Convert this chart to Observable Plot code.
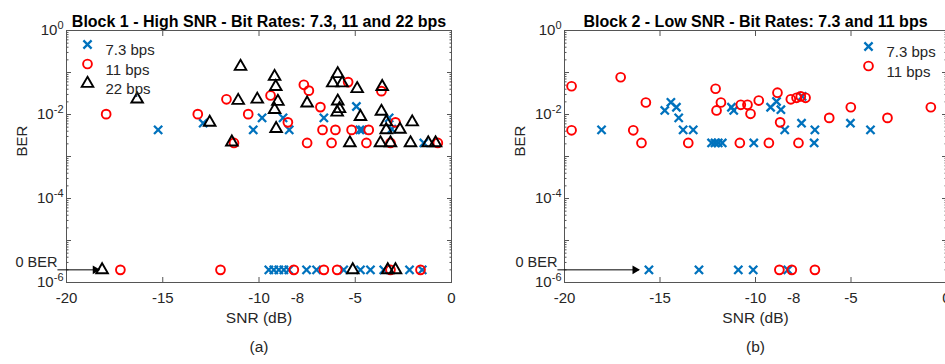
<!DOCTYPE html>
<html>
<head>
<meta charset="utf-8">
<script src="https://cdn.jsdelivr.net/npm/d3@7"></script>
<script src="https://cdn.jsdelivr.net/npm/@observablehq/plot@0.6"></script>
<style>
  html, body { margin: 0; padding: 0; background: #fff; }
  #wrap { position: relative; width: 945px; height: 364px; overflow: hidden; background: #fff; }
  .panel { position: absolute; top: 0; }
</style>
</head>
<body>
<div id="wrap"></div>
<script>
// ---------- data (SNR in dB, BER) ----------
const ZERO_BER = 2e-6;            // plotting position used for "0 BER" results

const b1_73 = [[-15.24,0.0043],[-12.9,0.0062],[-10.3,0.0043],[-9.84,0.0083],[-8.75,0.0083],[-8.43,0.0043],
  [-6.63,0.0083],[-4.94,0.0155],[-4.76,0.0043],[-4.64,0.0043],[-3.24,0.0083],[-3.1,0.0045],[-1.44,0.0021]];
const b1_73_zero = [-9.49,-9.23,-8.97,-8.71,-8.45,-7.53,-7.01,-5.6,-4.73,-4.21,-3.52,-2.18,-1.52];

const b1_11 = [[-17.94,0.0102],[-13.18,0.0102],[-11.69,0.023],[-10.56,0.0102],[-11.3,0.0021],[-9.4,0.0283],
  [-8.5,0.0065],[-7.67,0.051],[-7.41,0.037],[-7.5,0.0021],[-6.81,0.015],[-6.7,0.0043],[-6.23,0.0021],
  [-6.03,0.0043],[-5.37,0.059],[-5.19,0.0043],[-4.42,0.0021],[-4.3,0.0043],[-3.64,0.036],[-3.17,0.0021],
  [-2.91,0.0065],[-0.71,0.0021]];
const b1_11_zero = [-17.2,-12.0,-8.19,-6.63,-5.94,-3.17,-1.61];

const b1_22 = [[-16.33,0.0231],[-12.56,0.0065],[-11.41,0.0022],[-11.08,0.0215],[-10.96,0.139],[-10.09,0.023],
  [-9.19,0.080],[-9.13,0.046],[-9.02,0.0204],[-9.19,0.013],[-9.11,0.0046],[-7.5,0.0186],[-6.17,0.056],
  [-5.91,0.093],[-5.68,0.056],[-5.91,0.0207],[-5.82,0.0137],[-5.94,0.0113],[-5.28,0.0021],[-4.9,0.041],
  [-4.73,0.0089],[-3.6,0.046],[-3.64,0.0118],[-3.69,0.0021],[-3.39,0.0066],[-3.39,0.0043],[-3.17,0.0021],
  [-2.68,0.0044],[-2.04,0.0066],[-2.13,0.0021],[-1.21,0.0021],[-0.83,0.0021]];
const b1_22_zero = [-18.15,-5.13,-3.31,-2.91];

const b2_73 = [[-18.06,0.0043],[-14.75,0.0125],[-14.43,0.0195],[-14.14,0.0149],[-14.02,0.0083],[-13.79,0.0043],
  [-13.26,0.0043],[-12.3,0.0021],[-12.12,0.0021],[-11.95,0.0021],[-11.74,0.0021],[-11.26,0.0149],[-11.14,0.0125],
  [-10.09,0.0021],[-9.21,0.0149],[-8.9,0.0204],[-8.67,0.013],[-8.47,0.0043],[-7.56,0.027],[-7.59,0.0062],
  [-6.89,0.0043],[-6.93,0.0021],[-5.03,0.0062],[-3.98,0.0043]];
const b2_73_zero = [-15.58,-12.96,-10.9,-10.12,-8.31];

const b2_11 = [[-19.63,0.047],[-19.63,0.0042],[-17.06,0.077],[-16.4,0.0042],[-15.97,0.0021],[-15.74,0.0193],
  [-13.52,0.0021],[-12.09,0.041],[-11.81,0.0193],[-12.04,0.0125],[-10.82,0.0021],[-10.77,0.017],[-10.42,0.017],
  [-10.26,0.0104],[-9.83,0.0215],[-9.3,0.0021],[-8.85,0.033],[-8.71,0.0065],[-8.15,0.023],[-7.85,0.025],
  [-7.63,0.027],[-7.38,0.025],[-7.75,0.0021],[-6.14,0.0083],[-5.01,0.0149],[-3.09,0.0083],[-0.82,0.0149]];
const b2_11_zero = [-8.75,-8.1,-6.89];

const xTickLabels = [-20, -15, -10, -8, -5, 0];
const xTickMarks = [-20, -15, -10, -5, 0];
const yTickLabels = [1, 1e-2, 1e-4, 1e-6];
const yDecades = [1, 1e-1, 1e-2, 1e-3, 1e-4, 1e-5, 1e-6];
const yMinor = d3.range(-6, 0).flatMap(e => d3.range(2, 10).map(m => m * Math.pow(10, e)));

const titles = ["Block 1 - High SNR - Bit Rates: 7.3, 11 and 22 bps", "Block 2 - Low SNR - Bit Rates: 7.3 and 11 bps"];
const tags = ["(a)", "(b)"];
const legendLabels = ["7.3 bps", "11 bps", "22 bps"];
// "0 BER" annotation arrows (SNR from, SNR to)
const arrowFrom = [-20.47, -20.37];
const arrowTo = [-18.3, -16.1];

// ---------- styles ----------
const styles = {
  "7.3 bps": {symbol: "times", stroke: "#0072BD", r: 3.8, strokeWidth: 2.3},
  "11 bps": {symbol: "circle", stroke: "#FF0000", r: 4.4, strokeWidth: 1.9},
  "22 bps": {symbol: "triangle", stroke: "#000000", r: 4.3, strokeWidth: 1.9}
};
const FONT = "'Liberation Sans', Arial, Helvetica, sans-serif";

function toRows(pairs, zeros, series) {
  return pairs.map(([snr, ber]) => ({snr, ber, series}))
    .concat(zeros.map(snr => ({snr, ber: ZERO_BER, series})));
}

function panel({width, marginLeft, marginRight, seriesRows, title, tag, legend, legendAnchor, legendDx, legendDy, arrow}) {
  const marks = [];
  marks.push(Plot.frame({stroke: "#555", strokeWidth: 1}));
  // inward ticks (MATLAB style)
  for (const anchor of ["bottom", "top"]) {
    marks.push(Plot.axisX(xTickMarks, {anchor, tickSize: -5, stroke: "#555", tickFormat: () => ""}));
  }
  for (const anchor of ["left", "right"]) {
    marks.push(Plot.axisY(yDecades, {anchor, tickSize: -5, stroke: "#555", tickFormat: () => ""}));
    marks.push(Plot.axisY(yMinor, {anchor, tickSize: -2.5, stroke: "#555", tickFormat: () => ""}));
  }
  marks.push(Plot.axisX(xTickLabels, {anchor: "bottom", tickSize: 0, tickPadding: 10, fontSize: 15,
    tickFormat: d => String(d), fill: "#262626"}));
  marks.push(Plot.axisY(yTickLabels, {anchor: "left", tickSize: 0, tickPadding: 3, fontSize: 15, fill: "#262626",
    tickFormat: d => "10^" + Math.round(Math.log10(d))}));

  // data
  for (const [name, rows] of seriesRows) {
    const s = styles[name];
    marks.push(Plot.dot(rows, {x: "snr", y: "ber", symbol: () => s.symbol, stroke: s.stroke, r: s.r, strokeWidth: s.strokeWidth, fill: "none"}));
  }

  // 0 BER annotation
  const ann = [{x1: arrow[0], x2: arrow[1], y: ZERO_BER, text: "0 BER"}];
  marks.push(Plot.link(ann, {x1: "x1", x2: "x2", y1: "y", y2: "y", stroke: "#000", strokeWidth: 1}));
  marks.push(Plot.dot(ann, {x: "x2", y: "y", symbol: "triangle", rotate: 90, r: 3.2, fill: "#000", stroke: "none", dx: -4}));
  marks.push(Plot.text(ann, {x: "x1", y: "y", text: "text", textAnchor: "end", dx: 0, dy: -7, fontSize: 14.5, fill: "#262626"}));

  // legend
  legend.forEach((name, i) => {
    const s = styles[name];
    marks.push(Plot.dot([name], {frameAnchor: legendAnchor, dx: legendDx, dy: legendDy + i * 19.5,
      symbol: s.symbol, stroke: s.stroke, r: s.r, strokeWidth: s.strokeWidth, fill: "none"}));
    marks.push(Plot.text([name], {frameAnchor: legendAnchor, dx: legendDx + 18, dy: legendDy + i * 19.5,
      text: d => d, textAnchor: "start", fontSize: 15, fill: "#262626"}));
  });

  // titles and labels
  marks.push(Plot.text([title], {frameAnchor: "top", dy: -15, text: d => d, fontWeight: "bold", fontSize: 16, fill: "#000"}));
  marks.push(Plot.text(["SNR (dB)"], {frameAnchor: "bottom", dy: 40, text: d => d, fontSize: 15.5, fill: "#262626"}));
  marks.push(Plot.text([tag], {frameAnchor: "bottom", dy: 69, text: d => d, fontSize: 15.5, fill: "#262626"}));
  marks.push(Plot.text(["BER"], {frameAnchor: "left", dx: -44, rotate: -90, text: d => d, fontSize: 15, fill: "#262626"}));

  const svg = Plot.plot({
    width, height: 364,
    marginLeft, marginRight, marginTop: 30, marginBottom: 82,
    x: {domain: [-20, 0]},
    y: {type: "log", domain: [1e-6, 1]},
    style: {fontFamily: FONT, fontSize: "15px", background: "transparent", overflow: "visible"},
    marks
  });

  // superscript exponents on y tick labels
  svg.querySelectorAll("text").forEach(t => {
    const s = t.textContent;
    if (/^10\^-?\d+$/.test(s)) {
      const exp = s.slice(3);
      while (t.firstChild) t.removeChild(t.firstChild);
      t.appendChild(document.createTextNode("10"));
      const ts = document.createElementNS("http://www.w3.org/2000/svg", "tspan");
      ts.setAttribute("dy", "-0.55em");
      ts.setAttribute("font-size", "11");
      ts.textContent = exp;
      t.appendChild(ts);
    }
  });
  return svg;
}

const wrap = document.getElementById("wrap");

const left = panel({
  width: 472, marginLeft: 66, marginRight: 21,
  seriesRows: [
    ["7.3 bps", toRows(b1_73, b1_73_zero, "7.3 bps")],
    ["11 bps", toRows(b1_11, b1_11_zero, "11 bps")],
    ["22 bps", toRows(b1_22, b1_22_zero, "22 bps")]
  ],
  title: titles[0], tag: tags[0],
  legend: legendLabels, legendAnchor: "top-left", legendDx: 21, legendDy: 14,
  arrow: [arrowFrom[0], arrowTo[0]]
});
const right = panel({
  width: 476, marginLeft: 92, marginRight: 2,
  seriesRows: [
    ["7.3 bps", toRows(b2_73, b2_73_zero, "7.3 bps")],
    ["11 bps", toRows(b2_11, b2_11_zero, "11 bps")]
  ],
  title: titles[1], tag: tags[1],
  legend: legendLabels.slice(0, 2), legendAnchor: "top-right", legendDx: -78, legendDy: 16,
  arrow: [arrowFrom[1], arrowTo[1]]
});

for (const [svg, x, w] of [[left, 0, 472], [right, 472, 476]]) {
  const d = document.createElement("div");
  d.className = "panel";
  d.style.left = x + "px";
  d.style.width = w + "px";
  d.appendChild(svg);
  wrap.appendChild(d);
}
</script>
</body>
</html>
